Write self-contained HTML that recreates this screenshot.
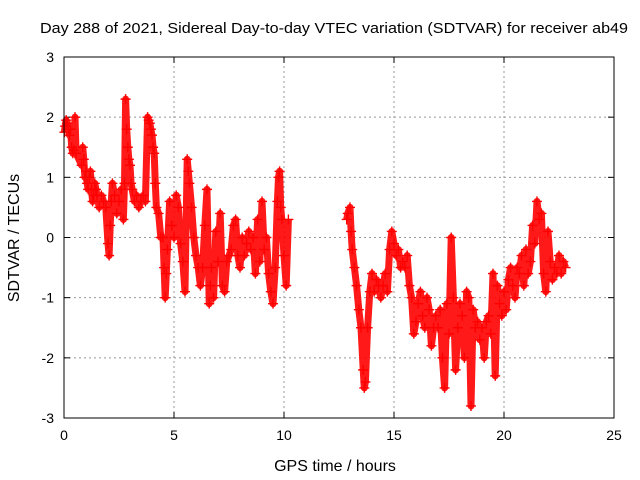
<!DOCTYPE html>
<html><head><meta charset="utf-8"><style>
html,body{margin:0;padding:0;background:#fff;}
svg{display:block;font-family:"Liberation Sans",sans-serif;}
</style></head><body>
<svg id="chart" width="640" height="480" viewBox="0 0 640 480">
<text x="334" y="33" font-size="15" text-anchor="middle" textLength="588" lengthAdjust="spacingAndGlyphs">Day 288 of 2021, Sidereal Day-to-day VTEC variation (SDTVAR) for receiver ab49</text>
<text x="335" y="471" font-size="16" text-anchor="middle">GPS time / hours</text>
<text x="19" y="238" font-size="16" text-anchor="middle" transform="rotate(-90 19 238)">SDTVAR / TECUs</text>
<g id="grid"></g>
<g id="ticks"></g>
<g id="marks"></g>
<rect x="64" y="57" width="550" height="361" fill="none" stroke="#000" stroke-width="1"/>
</svg>
<script>
const xTicks=[0,5,10,15,20,25];
const yTicks=[-3,-2,-1,0,1,2,3];
const times=[0.02,0.05,0.1,0.15,0.2,0.25,0.3,0.35,0.4,0.45,0.5,0.55,0.8,0.85,0.9,0.95,1.0,1.05,1.1,1.15,1.2,1.25,1.3,1.35,1.4,1.45,1.5,1.6,1.7,1.8,1.9,2.0,2.05,2.1,2.15,2.2,2.3,2.4,2.5,2.6,2.7,2.75,2.8,2.85,2.9,2.95,3.0,3.05,3.1,3.2,3.3,3.4,3.5,3.6,3.7,3.8,3.85,3.9,3.95,4.0,4.05,4.1,4.15,4.2,4.3,4.4,4.5,4.55,4.6,4.65,4.7,4.8,4.9,5.0,5.1,5.2,5.3,5.4,5.5,5.6,5.65,5.7,5.8,5.9,6.0,6.1,6.2,6.3,6.4,6.5,6.6,6.65,6.7,6.8,6.9,7.0,7.1,7.2,7.3,7.4,7.5,7.6,7.7,7.8,7.9,8.0,8.1,8.2,8.3,8.4,8.5,8.6,8.7,8.8,8.9,9.0,9.1,9.2,9.3,9.4,9.5,9.6,9.7,9.75,9.8,9.85,9.9,10.0,10.1,10.2,12.85,12.9,13.0,13.05,13.1,13.2,13.3,13.4,13.5,13.6,13.65,13.7,13.8,13.9,14.0,14.1,14.2,14.3,14.4,14.5,14.6,14.7,14.8,14.9,15.0,15.1,15.2,15.3,15.4,15.5,15.6,15.7,15.8,15.9,16.0,16.1,16.2,16.3,16.4,16.5,16.6,16.7,16.8,16.9,17.0,17.1,17.2,17.3,17.4,17.5,17.6,17.7,17.8,17.9,18.0,18.1,18.2,18.3,18.4,18.5,18.6,18.7,18.8,18.9,19.0,19.1,19.2,19.3,19.4,19.5,19.6,19.7,19.8,19.9,20.0,20.1,20.2,20.3,20.4,20.5,20.6,20.7,20.8,20.9,21.0,21.1,21.2,21.3,21.4,21.5,21.6,21.7,21.8,21.9,22.0,22.1,22.2,22.3,22.4,22.5,22.6,22.7,22.8];
const values=[1.75,1.85,1.95,1.9,1.8,1.7,1.8,1.5,1.4,1.45,2.0,1.4,1.2,1.5,1.3,1.0,1.1,0.9,0.8,1.0,1.1,0.8,0.6,0.7,0.9,0.8,0.7,0.5,0.7,0.6,0.5,-0.1,-0.3,0.2,0.6,0.9,0.7,0.4,0.6,0.8,0.3,0.9,2.3,1.8,1.5,1.3,1.2,0.9,0.8,0.6,0.7,0.5,0.6,0.7,0.6,2.0,1.95,1.9,1.8,1.7,1.5,1.4,0.9,0.5,0.4,0.0,0.0,-0.5,-1.0,-0.6,-0.2,0.6,0.2,0.0,0.7,0.5,-0.1,-0.4,-0.9,1.3,1.1,0.9,0.5,0.0,-0.3,-0.5,-0.8,-0.5,0.2,0.8,-1.1,-0.8,-0.5,-1.0,0.1,-0.4,0.4,-0.8,-0.9,-0.4,-0.3,-0.2,0.2,0.3,-0.3,-0.5,0.0,-0.3,-0.1,0.1,-0.2,0.0,-0.6,0.3,-0.4,0.6,-0.2,0.0,-0.6,-0.9,-1.1,-0.5,0.6,1.0,1.1,0.5,0.3,-0.3,-0.8,0.3,0.3,0.4,0.5,0.1,-0.2,-0.5,-0.8,-1.2,-1.5,-2.2,-2.5,-2.4,-1.5,-0.9,-0.6,-0.9,-0.7,-0.8,-1.0,-0.8,-0.6,-0.9,-0.2,0.1,-0.1,-0.3,-0.2,-0.5,-0.4,-0.5,-0.3,-0.8,-1.0,-1.6,-1.4,-1.1,-0.9,-1.3,-1.5,-1.0,-1.2,-1.8,-1.5,-1.3,-1.5,-1.2,-2.0,-2.5,-1.1,-1.6,0.0,-1.0,-2.2,-1.5,-1.1,-1.3,-2.0,-0.9,-1.0,-2.8,-1.2,-1.5,-1.4,-1.7,-1.5,-2.0,-1.4,-1.3,-1.6,-0.6,-2.3,-0.8,-1.1,-1.3,-0.9,-1.2,-0.7,-0.5,-0.8,-1.0,-0.5,-0.6,-0.3,-0.8,-0.2,-0.6,-0.4,0.2,-0.1,0.6,0.3,0.4,-0.6,-0.9,0.1,-0.4,-0.7,-0.5,-0.6,-0.3,-0.6,-0.4,-0.5];
const NS="http://www.w3.org/2000/svg";
const X0=64,X1=614,Y0=418,Y1=57;
function sx(t){return X0+(t-0)/(25-0)*(X1-X0);}
function sy(v){return Y0-(v-(-3))/(3-(-3))*(Y0-Y1);}
const grid=document.getElementById('grid'),ticks=document.getElementById('ticks'),marks=document.getElementById('marks');
function mk(tag,attrs,parent){const e=document.createElementNS(NS,tag);for(const k in attrs)e.setAttribute(k,attrs[k]);parent.appendChild(e);return e;}
xTicks.forEach(t=>{
  const x=sx(t);
  if(t>0&&t<25){const g=mk('line',{x1:x,x2:x,y1:Y0,y2:Y1,stroke:'#999','stroke-dasharray':'2,3'},grid);
  
  }
  mk('line',{x1:x,x2:x,y1:Y0,y2:Y0-6,stroke:'#000'},ticks);
  mk('line',{x1:x,x2:x,y1:Y1,y2:Y1+6,stroke:'#000'},ticks);
  const l=mk('text',{x:x,y:Y0+22,'font-size':14,'text-anchor':'middle'},ticks);l.textContent=t;
  
  
});
yTicks.forEach(v=>{
  const y=sy(v);
  if(v>-3&&v<3){const g=mk('line',{x1:X0,x2:X1,y1:y,y2:y,stroke:'#999','stroke-dasharray':'2,3'},grid);
  
  }
  mk('line',{x1:X0,x2:X0+6,y1:y,y2:y,stroke:'#000'},ticks);
  mk('line',{x1:X1,x2:X1-6,y1:y,y2:y,stroke:'#000'},ticks);
  const l=mk('text',{x:X0-10,y:y+5,'font-size':14,'text-anchor':'end'},ticks);l.textContent=v;
  
  
});
let seg=[];const segs=[];
times.forEach((t,i)=>{if(i>0&&t-times[i-1]>1){segs.push(seg);seg=[];}seg.push(sx(t)+','+sy(values[i]));});
segs.push(seg);
segs.forEach(s=>{const p=mk('polyline',{points:s.join(' '),fill:'none',stroke:'#f00','stroke-width':7,'stroke-linejoin':'round',opacity:0.9},marks);

});
times.forEach((t,i)=>{
  const x=sx(t),y=sy(values[i]);
  const p=mk('path',{d:`M${x-5},${y}H${x+5}M${x},${y-5}V${y+5}`,stroke:'#f00','stroke-width':1.4},marks);
  
  
});
</script>
</body></html>
